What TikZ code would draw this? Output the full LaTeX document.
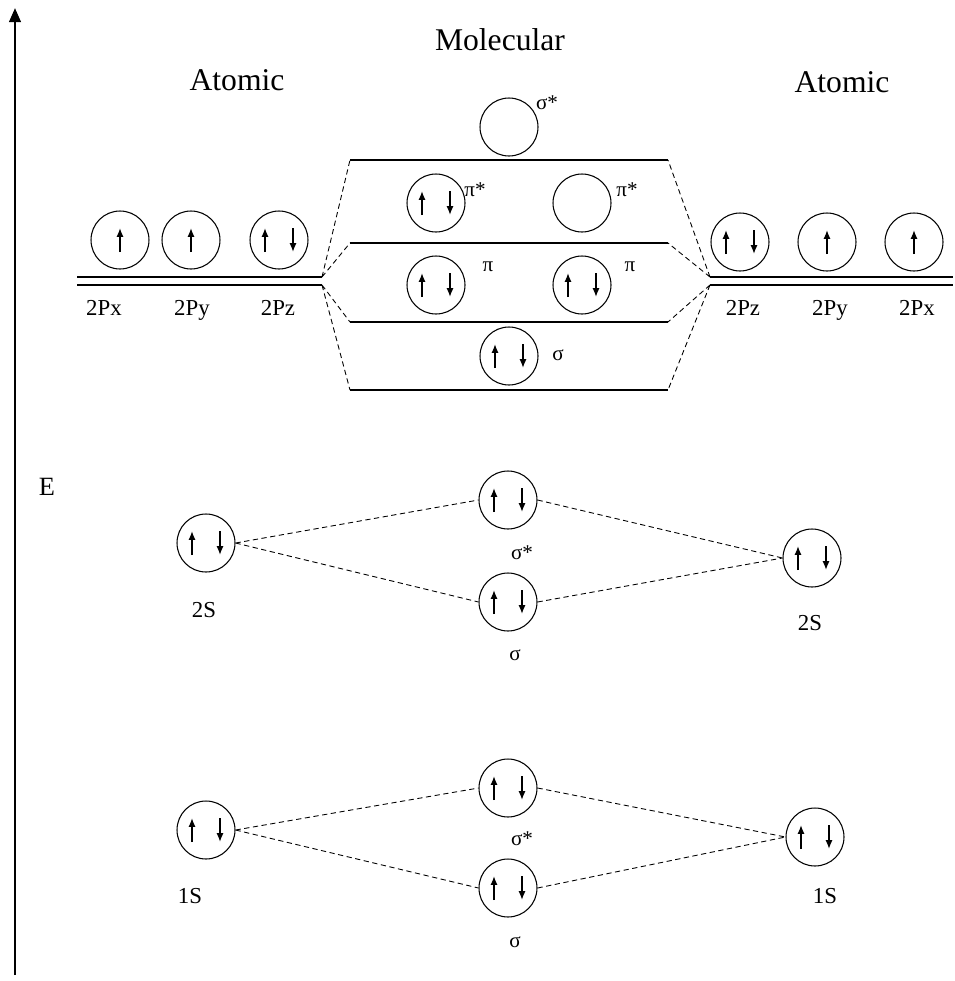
\documentclass[tikz,border=0pt]{standalone}
\usepackage{fontspec}
\setmainfont{Liberation Serif}
\usetikzlibrary{arrows.meta,calc}
\tikzset{
  orb/.style={circle, draw, line width=0.6pt, minimum size=1.16cm, inner sep=0pt},
  spin/.style={-{Latex[length=5pt,width=4pt]}, line width=0.9pt},
  lvl/.style={line width=0.6pt},
  link/.style={dash pattern=on 3pt off 2pt, line width=0.5pt},
  big/.style={font=\fontsize{18}{21}\selectfont},
  lbl/.style={font=\fontsize{13}{15}\selectfont, anchor=base},
  grk/.style={font=\fontsize{12}{14}\selectfont},
}
\newcommand{\spinup}[2][0]{\draw[spin] ($(#2)+(#1,12)$) -- ($(#2)+(#1,-12)$);}
\newcommand{\spinpair}[1]{\spinup[-14]{#1}\draw[spin] ($(#1)+(14,-12)$) -- ($(#1)+(14,12)$);}
\begin{document}
\begin{tikzpicture}[x=0.02cm, y=-0.02cm]
    \useasboundingbox (0,0) rectangle (955,981);
    % energy axis
    \draw[line width=1.5pt, -{Triangle[length=8pt,width=6.5pt]}] (15,975) -- (15,8);
    \node[font=\fontsize{15}{18}\selectfont] (E) at (47,487) {E};
    \node[big] (mol) at (500,40) {Molecular};
    \node[big] (atl) at (237,80) {Atomic};
    \node[big] (atr) at (842,82) {Atomic};
    % 2p atomic levels (double lines)
    \coordinate (Lt) at (322,277); \coordinate (Lb) at (322,285);
    \coordinate (Rt) at (710,277); \coordinate (Rb) at (710,285);
    \foreach \y in {277,285} {
        \draw[lvl] (77,\y) -- (322,\y);
        \draw[lvl] (710,\y) -- (953,\y);
    }
    % molecular 2p levels
    \foreach \n/\y in {1/160, 2/243, 3/322, 4/390} {
        \coordinate (ml\n) at (350,\y);
        \coordinate (mr\n) at (668,\y);
    }
    \foreach \n in {1,2,3} \draw[lvl] (ml\n) -- (mr\n);
    \draw[line width=1.3pt] (ml4) -- (mr4);
    \draw[link] (Lt) -- (ml1) (Lt) -- (ml2) (Lb) -- (ml3) (Lb) -- (ml4);
    \draw[link] (Rt) -- (mr1) (Rt) -- (mr2) (Rb) -- (mr3) (Rb) -- (mr4);
    % left atom 2p
    \node[orb] (pxl) at (120,240) {}; \spinup{pxl}
    \node[orb] (pyl) at (191,240) {}; \spinup{pyl}
    \node[orb] (pzl) at (279,240) {}; \spinpair{pzl}
    \node[lbl] at (104,315) {2Px};
    \node[lbl] at (192,315) {2Py};
    \node[lbl] at (278,315) {2Pz};
    % right atom 2p
    \node[orb] (pzr) at (740,242) {}; \spinpair{pzr}
    \node[orb] (pyr) at (827,242) {}; \spinup{pyr}
    \node[orb] (pxr) at (914,242) {}; \spinup{pxr}
    \node[lbl] at (743,315) {2Pz};
    \node[lbl] at (830,315) {2Py};
    \node[lbl] at (917,315) {2Px};
    % molecular 2p orbitals
    \node[orb] (ss2p) at (509,127) {};
    \node[grk] at (547,103) {σ*};
    \node[orb] (pis1) at (436,203) {}; \spinpair{pis1}
    \node[grk] at (475,190) {π*};
    \node[orb] (pis2) at (582,203) {};
    \node[grk] at (627,190) {π*};
    \node[orb] (pi1) at (436,285) {}; \spinpair{pi1}
    \node[grk] at (488,267) {π};
    \node[orb] (pi2) at (582,285) {}; \spinpair{pi2}
    \node[grk] at (630,267) {π};
    \node[orb] (sg2p) at (509,356) {}; \spinpair{sg2p}
    \node[grk] at (558,355) {σ};
    % 2s
    \node[orb] (s2l) at (206,543) {}; \spinpair{s2l}
    \node[orb] (s2a) at (508,500) {}; \spinpair{s2a}
    \node[orb] (s2b) at (508,602) {}; \spinpair{s2b}
    \node[orb] (s2r) at (812,558) {}; \spinpair{s2r}
    \node[lbl] at (204,617) {2S};
    \node[grk] at (522,553) {σ*};
    \node[grk] at (515,655) {σ};
    \node[lbl] at (810,630) {2S};
    \draw[link] (s2l.east) -- (s2a.west) (s2l.east) -- (s2b.west);
    \draw[link] (s2a.east) -- (s2r.west) (s2b.east) -- (s2r.west);
    % 1s
    \node[orb] (s1l) at (206,830) {}; \spinpair{s1l}
    \node[orb] (s1a) at (508,788) {}; \spinpair{s1a}
    \node[orb] (s1b) at (508,888) {}; \spinpair{s1b}
    \node[orb] (s1r) at (815,837) {}; \spinpair{s1r}
    \node[lbl] at (190,903) {1S};
    \node[grk] at (522,839) {σ*};
    \node[grk] at (515,942) {σ};
    \node[lbl] at (825,903) {1S};
    \draw[link] (s1l.east) -- (s1a.west) (s1l.east) -- (s1b.west);
    \draw[link] (s1a.east) -- (s1r.west) (s1b.east) -- (s1r.west);
\end{tikzpicture}
\end{document}
